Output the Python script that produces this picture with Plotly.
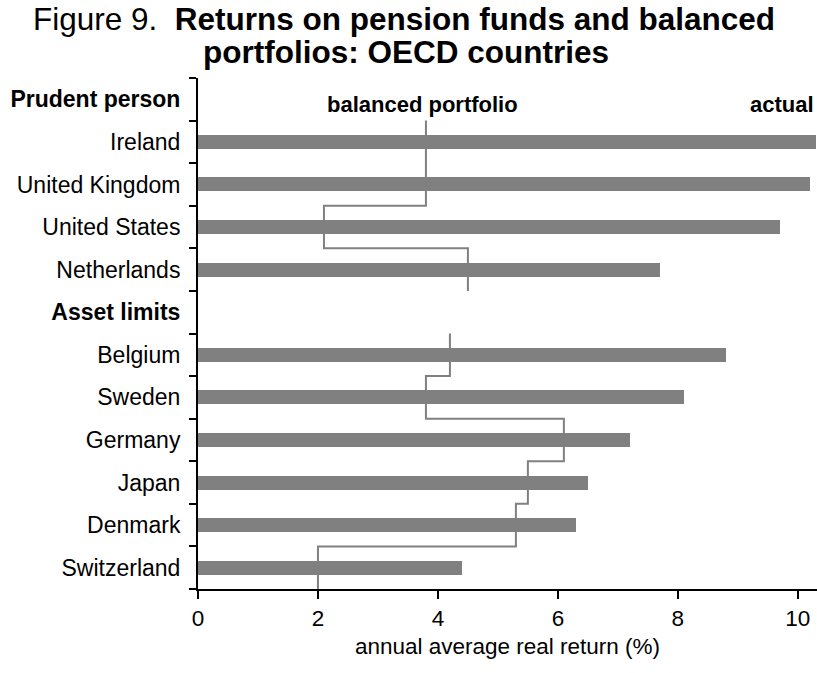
import plotly.graph_objects as go

categories = ["Prudent person", "Ireland", "United Kingdom", "United States", "Netherlands",
              "Asset limits", "Belgium", "Sweden", "Germany", "Japan", "Denmark", "Switzerland"]
headers = ["Prudent person", "Asset limits"]
actual = [None, 10.3, 10.2, 9.7, 7.7, None, 8.8, 8.1, 7.2, 6.5, 6.3, 4.4]
balanced = [None, 3.8, 3.8, 2.1, 4.5, None, 4.2, 3.8, 6.1, 5.5, 5.3, 2.0]
x_ticks = [0, 2, 4, 6, 8, 10]
title_lines = ["Figure 9.&nbsp; <b>Returns on pension funds and balanced</b>",
               "<b>portfolios: OECD countries</b>"]

FONT = "Liberation Sans, Arial, sans-serif"
GREY = "#808080"
idx = list(range(len(categories)))

W, H = 817, 673
ML, MR, MT, MB = 198, 0, 78, 84
PW, PH = W - ML - MR, H - MT - MB


def px_to_paper(xp, yp):
    return (xp - ML) / PW, (H - MB - yp) / PH


fig = go.Figure()
fig.add_trace(go.Bar(orientation="h", x=actual, y=idx, width=0.33,
                     marker=dict(color=GREY, line=dict(width=0)), showlegend=False,
                     hoverinfo="x+y"))

# step line for balanced portfolio, one segment group per block
groups, cur = [], []
for i, v in enumerate(balanced):
    if v is None:
        if cur:
            groups.append(cur)
        cur = []
    else:
        cur.append((i, v))
if cur:
    groups.append(cur)
for g in groups:
    xs, ys = [], []
    for i, v in g:
        xs += [v, v]
        ys += [i - 0.5, i + 0.5]
    fig.add_trace(go.Scatter(x=xs, y=ys, mode="lines", line=dict(color=GREY, width=2),
                             showlegend=False, hoverinfo="skip"))

ticktext = [f"<b>{c}</b>" if c in headers else c for c in categories]

fig.update_layout(
    width=W, height=H,
    margin=dict(l=ML, r=MR, t=MT, b=MB),
    paper_bgcolor="white", plot_bgcolor="white",
    font=dict(family=FONT, size=22.5, color="black"),
    bargap=0,
)
fig.update_xaxes(range=[0, 10.32], tickvals=x_ticks, ticks="outside", ticklen=8, tickwidth=2,
                 tickcolor="black", showline=True, linewidth=2, linecolor="black",
                 showgrid=False, zeroline=False, tickfont=dict(size=22.5),
                 title=dict(text="annual average real return (%)", standoff=8,
                            font=dict(size=22.5)))
fig.update_yaxes(range=[len(categories) - 0.5, -0.5], tickvals=idx, ticktext=ticktext,
                 ticks="", showline=True, linewidth=2, linecolor="black",
                 showgrid=False, zeroline=False, tickfont=dict(size=23),
                 ticklabelstandoff=11,
                 minor=dict(tickvals=[i - 0.5 for i in idx] + [len(categories) - 0.5],
                            ticks="outside", ticklen=7, tickwidth=2, tickcolor="black",
                            showgrid=False))

# two-line title placed line by line (tight line spacing as in the original)
for text, (cx, cy) in zip(title_lines, [(404, 19), (406, 52)]):
    xp, yp = px_to_paper(cx, cy)
    fig.add_annotation(x=xp, y=yp, xref="paper", yref="paper", text=text,
                       showarrow=False, xanchor="center", yanchor="middle",
                       font=dict(family=FONT, size=31.5, color="black"))

fig.add_annotation(x=3.75, y=0.13, xref="x", yref="y", text="<b>balanced portfolio</b>",
                   showarrow=False, xanchor="center", yanchor="middle",
                   font=dict(family=FONT, size=22, color="black"))
fig.add_annotation(x=10.3, y=0.13, xref="x", yref="y", text="<b>actual</b>",
                   showarrow=False, xanchor="right", yanchor="middle",
                   font=dict(family=FONT, size=22, color="black"))

fig.write_html("out.html", config={"displayModeBar": False},
               post_script="document.body.style.margin='0';document.body.style.overflow='hidden';")
